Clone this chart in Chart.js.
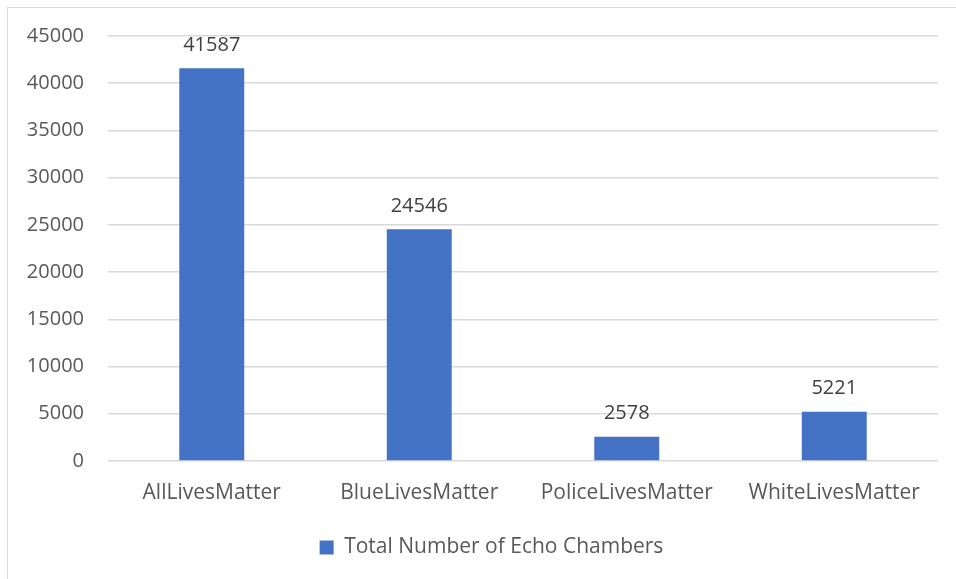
<!DOCTYPE html>
<html>
<head>
<meta charset="utf-8">
<script src="https://cdn.jsdelivr.net/npm/chart.js@4/dist/chart.umd.min.js"></script>
<style>
  html, body { margin: 0; padding: 0; background: #fff; overflow: hidden; }
  #frame {
    position: absolute; left: 7px; top: 7px;
    width: 948px; height: 571px;
    border-left: 1px solid #d9d9d9; border-top: 1px solid #d9d9d9;
  }
  #frame canvas { display: block; }
</style>
</head>
<body>
<div id="frame"><canvas id="echo" width="948" height="571"></canvas></div>
<script>
const hashtags = ['AllLivesMatter', 'BlueLivesMatter', 'PoliceLivesMatter', 'WhiteLivesMatter'];
const chamberCounts = [41587, 24546, 2578, 5221];
const seriesName = 'Total Number of Echo Chambers';
const yTicks = [0, 5000, 10000, 15000, 20000, 25000, 30000, 35000, 40000, 45000];

const FONT = "'Open Sans', 'Noto Sans', sans-serif";

// value written above each bar
const barValues = {
  id: 'barValues',
  afterDatasetsDraw(chart) {
    const ctx = chart.ctx;
    const meta = chart.getDatasetMeta(0);
    ctx.save();
    ctx.font = '20px ' + FONT;
    ctx.fillStyle = '#404040';
    ctx.textAlign = 'center';
    ctx.textBaseline = 'alphabetic';
    meta.data.forEach((bar, i) => {
      ctx.fillText(String(chamberCounts[i]), bar.x, bar.y - 17.5);
    });
    ctx.restore();
  }
};

// legend sits a bit right of the canvas centre, under the plot
const legendNudge = {
  id: 'legendNudge',
  afterLayout(chart) {
    if (chart.legend) chart.legend.left += 37;
  }
};

new Chart(document.getElementById('echo'), {
  type: 'bar',
  data: {
    labels: hashtags,
    datasets: [{
      label: seriesName,
      data: chamberCounts,
      backgroundColor: '#4472c4',
      borderWidth: 0,
      categoryPercentage: 1,
      barPercentage: 0.313
    }]
  },
  options: {
    responsive: false,
    animation: false,
    events: [],
    layout: { padding: { left: 0, right: 18, top: 28, bottom: 11 } },
    scales: {
      x: {
        grid: { display: false },
        border: { display: false },
        ticks: { color: '#595959', font: { family: FONT, size: 21 }, padding: 11, maxRotation: 0 },
        afterFit(axis) { axis.height = 60; }
      },
      y: {
        min: 0,
        max: 45000,
        afterBuildTicks(axis) { axis.ticks = yTicks.map(v => ({ value: v })); },
        grid: { color: '#d9d9d9', lineWidth: 1.5, drawTicks: false },
        border: { display: false },
        ticks: {
          color: '#595959',
          font: { family: FONT, size: 20 },
          padding: 24,
          callback: v => String(v)
        },
        afterFit(axis) {
          axis.width = 100;
          axis.paddingTop = 0;
          axis.paddingBottom = 0;
        }
      }
    },
    plugins: {
      legend: {
        position: 'bottom',
        labels: {
          color: '#595959',
          font: { family: FONT, size: 21 },
          boxWidth: 14,
          boxHeight: 14,
          padding: 16
        }
      },
      tooltip: { enabled: false }
    }
  },
  plugins: [barValues, legendNudge]
});
</script>
</body>
</html>
